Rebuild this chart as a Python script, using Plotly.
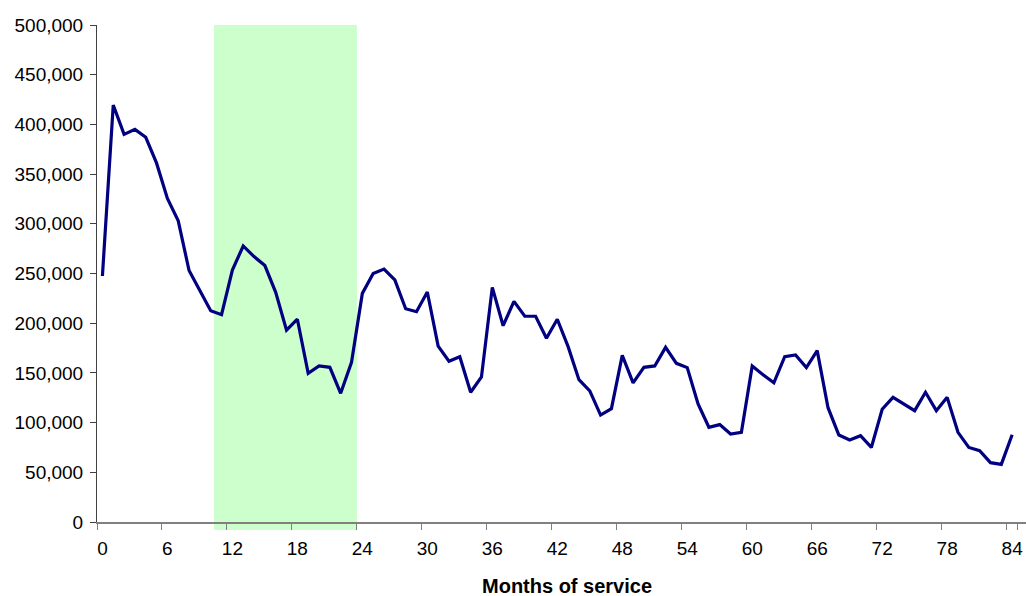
import plotly.graph_objects as go

months = list(range(0, 85))
employees = [
    247500, 419500, 390000, 395000, 387000, 361000, 325600, 303000, 253000, 233400,
    212600, 208600, 253500, 277700, 267000, 258000, 231000, 193000, 204000, 149600,
    157000, 155600, 129500, 160700, 230000, 250000, 254500, 243500, 214600, 211600,
    231400, 177000, 161700, 166300, 130500, 145900, 236000, 197500, 222000, 207000,
    207000, 184800, 204000, 176400, 143200, 132000, 107600, 114000, 167700, 140000,
    155600, 157000, 175700, 159600, 155300, 118700, 95300, 98000, 88500, 90200,
    157000, 148200, 140000, 166300, 168000, 155300, 172400, 115000, 87500, 82500,
    86800, 75000, 113400, 125400, 118700, 112000, 130500, 112000, 125400, 90200,
    75000, 71700, 59700, 58000, 87800,
]
tick_labels = [str(m) for m in range(0, 85, 6)]
highlight_start = 10.3
highlight_end = 23.5
y_title = "Employees"
x_title = "Months of service"

FONT = "Liberation Sans, Arial, sans-serif"
FS = 19

fig = go.Figure()
fig.add_trace(go.Scatter(
    x=[str(m) for m in months],
    y=employees,
    mode="lines",
    line=dict(color="#000080", width=3.2),
    hoverinfo="x+y",
    showlegend=False,
))

fig.add_shape(
    type="rect", xref="x", yref="paper",
    x0=highlight_start, x1=highlight_end, y0=-0.016, y1=1,
    fillcolor="#ccffcc", line=dict(width=0), layer="below",
)

fig.update_layout(
    width=1026, height=596,
    margin=dict(l=97, r=0, t=25, b=74, autoexpand=False),
    paper_bgcolor="white", plot_bgcolor="white",
    font=dict(family=FONT, size=FS, color="black"),
    xaxis=dict(
        type="category",
        range=[-0.5, 85.28],
        tickmode="array",
        tickvals=tick_labels,
        ticktext=tick_labels,
        tickson="boundaries",
        tickangle=0,
        automargin=False,
        ticks="outside", ticklen=6, tickcolor="#808080", tickwidth=1,
        showline=True, linecolor="#808080", linewidth=2,
        showgrid=False, zeroline=False,
        ticklabelstandoff=8,
        tickfont=dict(family=FONT, size=FS, color="black"),
    ),
    yaxis=dict(
        range=[0, 500000], dtick=50000, tickformat=",",
        automargin=False,
        ticks="outside", ticklen=6, tickcolor="#404040", tickwidth=1,
        showline=True, linecolor="#404040", linewidth=1,
        showgrid=False, zeroline=False,
        ticklabelstandoff=3,
        tickfont=dict(family=FONT, size=FS, color="black"),
    ),
    annotations=[
        dict(text="<b>" + x_title + "</b>", xref="paper", yref="paper",
             x=(567 - 97) / 929, y=(522 - 586) / 497, xanchor="center", yanchor="middle",
             showarrow=False, font=dict(family=FONT, size=20, color="black")),
        dict(text="<b>" + y_title + "</b>", xref="paper", yref="paper",
             x=(68 - 97) / 929, y=1 + (25 + 11) / 497, xanchor="left", yanchor="middle",
             showarrow=False, font=dict(family=FONT, size=FS, color="black")),
    ],
)

fig.write_html(
    "out.html",
    config={"displayModeBar": False},
    post_script="document.body.style.margin='0';document.body.style.overflow='hidden';",
)
